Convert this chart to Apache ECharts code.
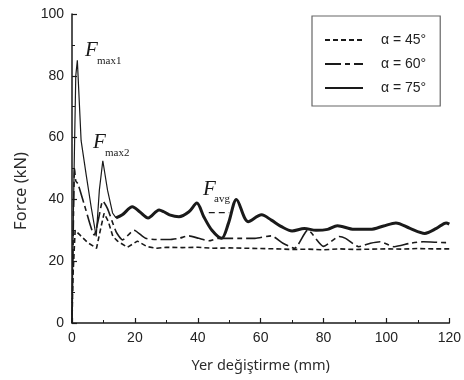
<!DOCTYPE html>
<html>
<head>
<meta charset="utf-8">
<script src="https://cdn.jsdelivr.net/npm/echarts@6/dist/echarts.min.js"></script>
<style>
  html, body { margin: 0; padding: 0; background: #fff; }
  #chart { width: 464px; height: 380px; }
</style>
</head>
<body>
<div id="chart"></div>
<script>
// legend names
const names = ["α = 45°", "α = 60°", "α = 75°"]

// displacement (mm) / force (kN)
const x45 = [0, 0.3, 1, 2.5, 5, 7.8, 9, 10.2, 11.5, 13, 14.5, 17.6, 20.8, 23.9, 27, 30, 35, 40, 45, 50, 55, 60, 65, 70, 75, 80, 85, 90, 95, 100, 105, 110, 115, 120]
const f45 = [0, 15, 30, 28.5, 26, 24.2, 30, 35.5, 33, 28, 26.5, 24.5, 26.5, 24.7, 24.2, 24.5, 24.4, 24.5, 24.2, 24.3, 24.2, 24.1, 24, 23.8, 23.9, 23.7, 24, 23.8, 23.9, 24, 23.9, 24.1, 24, 24]

const x60 = [0, 0.4, 0.8, 1.2, 1.9, 4, 7.1, 8.5, 9.8, 11.3, 14, 16.1, 19.7, 23.4, 27.1, 30.9, 34, 37.2, 40.3, 43.5, 46.6, 49.8, 52.9, 58.2, 63.4, 67.1, 70.8, 75, 80, 85, 87, 91.2, 94.9, 98, 102.5, 107.5, 111.7, 119, 120]
const f60 = [0, 30, 50, 46, 45, 38, 28.5, 34, 39.5, 37, 29.6, 26.9, 30, 27.4, 27, 27, 27.4, 28.2, 27.4, 26.6, 27.4, 27.4, 27.4, 27.4, 28.2, 25.8, 24.2, 30.1, 24.8, 28, 27.4, 24.7, 25.8, 26.3, 24.7, 25.8, 26.3, 26, 26]

const x75 = [0, 0.5, 1.2, 1.7, 2.9, 4.5, 6.1, 7.7, 8.7, 9.8, 11.3, 12.9, 14, 16, 19.2, 21.5, 24.2, 27.7, 29.2, 31, 34, 37.2, 39.7, 41.9, 44.5, 47.6, 49.8, 52.3, 56, 60.3, 63.4, 66.6, 70, 73.9, 77.6, 81.3, 84.4, 89.7, 94.9, 99.1, 103, 107.5, 112.2, 115.9, 119, 120]
const f75 = [0, 40, 80, 85, 59, 48, 37.5, 28, 43, 52.5, 43, 35.6, 34, 35, 37.6, 36, 34, 36.6, 36, 35, 34.4, 36, 38.8, 34.4, 30, 27.4, 32.4, 40, 32.8, 35, 33.3, 31.2, 29.8, 30.6, 30, 30.3, 31.5, 30.3, 30.3, 31.4, 32.4, 30.6, 29, 30.6, 32.4, 32]
const thickFrom = 14   // 75° curve is drawn heavy after this displacement

// short dashed average-force marker
const xAvg = [43.5, 50]
const fAvg = [35.7, 35.7]

const xTicks = [0, 20, 40, 60, 80, 100, 120]
const yTicks = [0, 20, 40, 60, 80, 100]

const pair = (xs, ys) => xs.map((x, i) => [x, ys[i]])
const ink = "#1a1a1a"

const chart = echarts.init(document.getElementById("chart"))

const axisCommon = {
  axisLine: { lineStyle: { color: ink, width: 1.5 } },
  axisTick: { inside: true, length: 5, lineStyle: { color: ink, width: 1.2 } },
  minorTick: { show: true, splitNumber: 2, length: 3, lineStyle: { color: ink, width: 1 } },
  splitLine: { show: false },
  axisLabel: { color: "#222", fontSize: 14, fontFamily: "Liberation Sans", margin: 8 },
}

const all75 = pair(x75, f75)

const option = {
  animation: false,
  backgroundColor: "#fff",
  grid: { left: 72, right: 11, top: 14, bottom: 57 },
  xAxis: {
    type: "value",
    min: xTicks[0],
    max: xTicks[xTicks.length - 1],
    interval: xTicks[1] - xTicks[0],
    name: "Yer değiştirme (mm)",
    nameLocation: "middle",
    nameGap: 35,
    nameTextStyle: { color: "#2b2b2b", fontSize: 14.5, fontFamily: "Noto Sans" },
    ...axisCommon,
  },
  yAxis: {
    type: "value",
    min: yTicks[0],
    max: yTicks[yTicks.length - 1],
    interval: yTicks[1] - yTicks[0],
    name: "Force (kN)",
    nameLocation: "middle",
    nameGap: 38,
    nameTextStyle: { color: "#2b2b2b", fontSize: 16.5, fontFamily: "Noto Sans", padding: [0, 45, 0, 0] },
    ...axisCommon,
  },
  legend: {
    orient: "vertical",
    left: 312,
    top: 16,
    padding: [17, 14, 11, 12],
    itemGap: 10,
    itemWidth: 38,
    itemHeight: 14,
    borderColor: "#666",
    borderWidth: 1.2,
    backgroundColor: "#fff",
    itemStyle: { opacity: 0 },
    textStyle: { color: "#222", fontSize: 14, fontFamily: "Liberation Sans", padding: [0, 0, 0, 13] },
    data: [
      { name: names[0] },
      { name: names[1] },
      { name: names[2], lineStyle: { width: 2 } },
    ],
  },
  series: [
    {
      name: names[0],
      type: "line",
      symbol: "none",
      data: pair(x45, f45),
      lineStyle: { color: ink, width: 1.6, type: [5, 3] },
      itemStyle: { color: ink },
    },
    {
      name: names[1],
      type: "line",
      symbol: "none",
      smooth: 0.2,
      data: pair(x60, f60),
      lineStyle: { color: ink, width: 1.6, type: [16, 4, 5, 4] },
      itemStyle: { color: ink },
    },
    {
      name: names[2],
      type: "line",
      symbol: "none",
      data: all75.filter((d) => d[0] <= thickFrom),
      lineStyle: { color: ink, width: 1.2 },
      itemStyle: { color: ink },
    },
    {
      name: names[2],
      type: "line",
      symbol: "none",
      smooth: 0.3,
      data: all75.filter((d) => d[0] >= thickFrom),
      lineStyle: { color: ink, width: 3 },
      itemStyle: { color: ink },
    },
    {
      name: "avg",
      type: "line",
      symbol: "none",
      data: pair(xAvg, fAvg),
      lineStyle: { color: ink, width: 1.2, type: [6, 4] },
    },
  ],
  graphic: [
    // F_max1
    { type: "text", left: 85, top: 40, style: { text: "F", font: "italic 21px 'Liberation Serif'", fill: ink } },
    { type: "text", left: 97, top: 56, style: { text: "max1", font: "11px 'Liberation Serif'", fill: ink } },
    // F_max2
    { type: "text", left: 93, top: 132, style: { text: "F", font: "italic 21px 'Liberation Serif'", fill: ink } },
    { type: "text", left: 105, top: 148, style: { text: "max2", font: "11px 'Liberation Serif'", fill: ink } },
    // F_avg
    { type: "text", left: 203, top: 179, style: { text: "F", font: "italic 21px 'Liberation Serif'", fill: ink } },
    { type: "text", left: 214, top: 194, style: { text: "avg", font: "11px 'Liberation Serif'", fill: ink } },
  ],
}

chart.setOption(option)
</script>
</body>
</html>
